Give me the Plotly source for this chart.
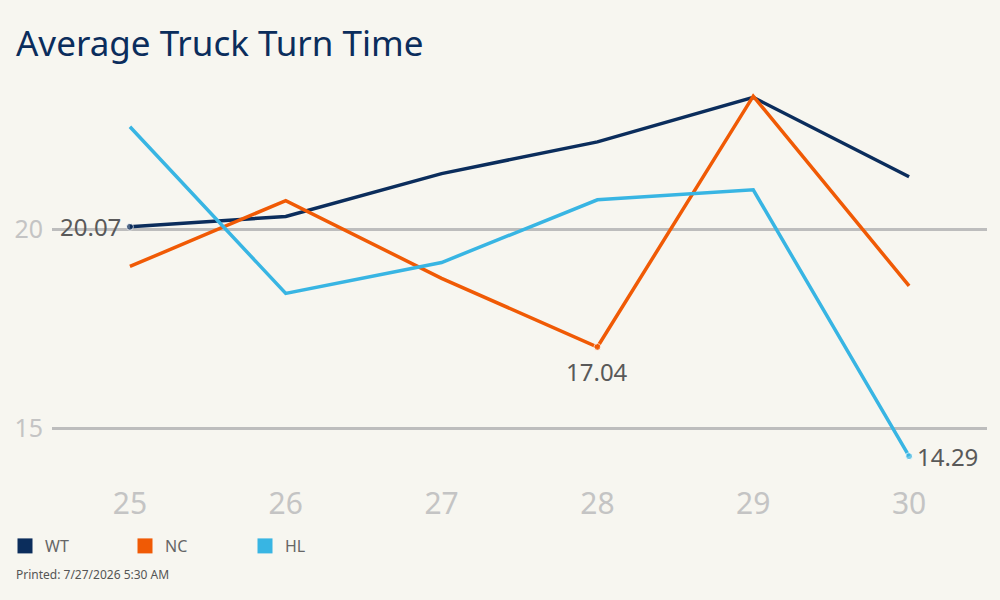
import plotly.graph_objects as go

days = [25, 26, 27, 28, 29, 30]
wt = [20.07, 20.33, 21.41, 22.21, 23.33, 21.33]
nc = [19.07, 20.73, 18.77, 17.04, 23.36, 18.58]
hl = [22.59, 18.39, 19.17, 20.75, 21.00, 14.29]
series_names = ["WT", "NC", "HL"]
colors = ["#0b2d5c", "#f05a05", "#38b5e3"]
y_ticks = [15, 20]

fig = go.Figure()

def sizes(vals, idx):
    return [7 if i == idx else 0 for i in range(len(vals))]

label_idx = [0, 3, 5]
# (xanchor, yanchor, xshift, yshift) for each series' label
label_style = [("right", "middle", -7, 0), ("center", "middle", 0, -24), ("left", "middle", 6, 0)]
annotations = []
for name, vals, col, idx, st in zip(series_names, [wt, nc, hl], colors, label_idx, label_style):
    fig.add_trace(go.Scatter(
        x=days, y=vals, mode="lines+markers", name=name,
        line=dict(color=col, width=3.5),
        marker=dict(size=sizes(vals, idx), color=col),
        showlegend=False, hoverinfo="skip",
    ))
    annotations.append(dict(
        x=days[idx], y=vals[idx], xref="x", yref="y", text=f"{vals[idx]:.2f}",
        showarrow=False, xanchor=st[0], yanchor=st[1], xshift=st[2], yshift=st[3],
        font=dict(size=24, color="#595959", family="Noto Sans"),
    ))

for name, col in zip(series_names, colors):
    fig.add_trace(go.Scatter(
        x=[None], y=[None], mode="markers", name=name,
        marker=dict(symbol="square", size=15, color=col),
        showlegend=True,
    ))

L, R, T, B = 52, 13, 70, 120
PW, PH = 1000 - L - R, 600 - T - B

annotations.append(dict(text="Printed: 7/27/2026 5:30 AM", x=(14 - L)/PW, xref="paper",
                        xanchor="left", y=(600 - B - 574)/PH, yref="paper", yanchor="middle",
                        showarrow=False,
                        font=dict(family="Noto Sans", size=12, color="#555555")))

fig.update_layout(
    width=1000, height=600,
    paper_bgcolor="#f7f6f0", plot_bgcolor="#f7f6f0",
    margin=dict(l=L, r=R, t=T, b=B, autoexpand=False),
    title=dict(text="Average Truck Turn Time", x=16/1000, xanchor="left", y=1-44/600, yanchor="middle",
               font=dict(family="Noto Sans", size=35, color="#0b2d5c")),
    xaxis=dict(range=[24.5, 30.5], tickvals=days, ticktext=[str(d) for d in days], automargin=False,
               showgrid=False, zeroline=False, showline=False, ticklabelstandoff=3,
               tickfont=dict(family="Noto Sans", size=30, color="#c4c4c4"), ticks=""),
    yaxis=dict(range=[13.69, 24.02], tickvals=y_ticks, showgrid=True, gridcolor="#bdbdbd", gridwidth=3,
               zeroline=False, showline=False, ticks="", ticklabelstandoff=8, automargin=False,
               tickfont=dict(family="Noto Sans", size=25, color="#c4c4c4")),
    legend=dict(orientation="h", x=(5 - L)/PW, y=(600 - B - 529)/PH, xanchor="left", yanchor="top",
                entrywidth=75, entrywidthmode="pixels",
                font=dict(family="Noto Sans", size=16, color="#666666"),
                bgcolor="rgba(0,0,0,0)", itemclick=False),
    annotations=annotations,
)
fig.write_html("out.html", config={"displayModeBar": False},
               post_script="document.body.style.margin='0';document.body.style.padding='0';")
